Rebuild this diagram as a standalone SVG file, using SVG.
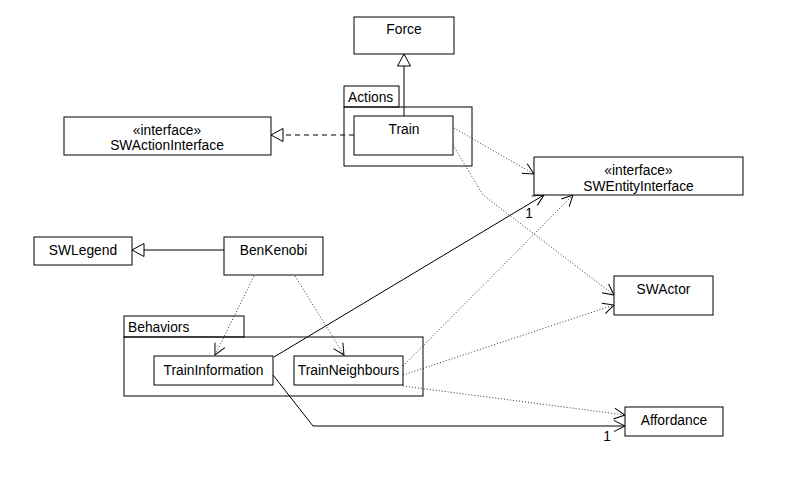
<svg xmlns="http://www.w3.org/2000/svg" width="805" height="494" viewBox="0 0 805 494">
<defs>
<style>
.box{fill:#fff;stroke:#000;stroke-width:1}
.pkg{fill:none;stroke:#000;stroke-width:1}
text{font-family:"Liberation Sans",Arial,sans-serif;font-size:13.8px;fill:#000}
.c{text-anchor:middle}
.solid{fill:none;stroke:#000;stroke-width:1}
.dot{fill:none;stroke:#333;stroke-width:1;stroke-dasharray:1 2}
.dash{fill:none;stroke:#000;stroke-width:1;stroke-dasharray:5 4}
</style>
<marker id="open" markerUnits="userSpaceOnUse" viewBox="-12 -7 14 14" refX="0" refY="0" markerWidth="14" markerHeight="14" orient="auto" overflow="visible">
<path d="M-11,-5.5 L0,0 L-11,5.5" fill="none" stroke="#000" stroke-width="1"/>
</marker>
<marker id="tri" markerUnits="userSpaceOnUse" viewBox="-14 -8 16 16" refX="0" refY="0" markerWidth="16" markerHeight="16" orient="auto" overflow="visible">
<path d="M0,0 L-12,-6.5 L-12,6.5 Z" fill="#fff" stroke="#000" stroke-width="1"/>
</marker>
</defs>
<rect width="805" height="494" fill="#fff"/>

<g id="connectors">
<path class="solid" d="M404,116 L404,54" marker-end="url(#tri)"/>
<path class="dash" d="M354,135 L271,135" marker-end="url(#tri)"/>
<path class="solid" d="M224,250 L132,250" marker-end="url(#tri)"/>
<path class="dot" d="M454,128 L534,174" marker-end="url(#open)"/>
<path class="dot" d="M453,145 L483,195 L614,295" marker-end="url(#open)"/>
<path class="solid" d="M274,357 L544,195" marker-end="url(#open)"/>
<path class="dot" d="M403,366 L573,195" marker-end="url(#open)"/>
<path class="dot" d="M403,375 L614,305" marker-end="url(#open)"/>
<path class="dot" d="M403,386 L625,415" marker-end="url(#open)"/>
<path class="solid" d="M273,375 L313,426 L625,426" marker-end="url(#open)"/>
<path class="dot" d="M254,276 L215,355" marker-end="url(#open)"/>
<path class="dot" d="M295,276 L344,355" marker-end="url(#open)"/>
<text x="529" y="218" class="c">1</text>
<text x="607" y="441" class="c">1</text>
</g>

<g id="Force">
<rect class="box" x="354" y="17" width="100" height="37"/>
<text x="404" y="34" class="c">Force</text>
</g>

<g id="Actions">
<rect class="pkg" x="344" y="86" width="55" height="21"/>
<rect class="pkg" x="344" y="107" width="128" height="59"/>
<text x="348" y="102">Actions</text>
</g>

<g id="Train">
<rect class="box" x="354" y="116" width="99" height="39"/>
<text x="404" y="134" class="c">Train</text>
</g>

<g id="SWActionInterface">
<rect class="box" x="64" y="117" width="207" height="38"/>
<text x="167" y="135" class="c">«interface»</text>
<text x="167" y="150" class="c">SWActionInterface</text>
</g>

<g id="SWEntityInterface">
<rect class="box" x="534" y="157" width="209" height="38"/>
<text x="638.5" y="175" class="c">«interface»</text>
<text x="638.5" y="191" class="c">SWEntityInterface</text>
</g>

<g id="SWLegend">
<rect class="box" x="34" y="237" width="98" height="28"/>
<text x="83" y="255" class="c">SWLegend</text>
</g>

<g id="BenKenobi">
<rect class="box" x="224" y="237" width="99" height="38"/>
<text x="273.5" y="255" class="c">BenKenobi</text>
</g>

<g id="Behaviors">
<rect class="pkg" x="124" y="316" width="120" height="21"/>
<rect class="pkg" x="124" y="337" width="299" height="59"/>
<text x="128" y="332">Behaviors</text>
</g>

<g id="TrainInformation">
<rect class="box" x="154" y="356" width="119" height="29"/>
<text x="213.5" y="375" class="c">TrainInformation</text>
</g>

<g id="TrainNeighbours">
<rect class="box" x="294" y="356" width="109" height="29"/>
<text x="348.5" y="375" class="c">TrainNeighbours</text>
</g>

<g id="SWActor">
<rect class="box" x="614" y="276" width="99" height="39"/>
<text x="663.5" y="294" class="c">SWActor</text>
</g>

<g id="Affordance">
<rect class="box" x="625" y="407" width="98" height="29"/>
<text x="674" y="425" class="c">Affordance</text>
</g>
</svg>
